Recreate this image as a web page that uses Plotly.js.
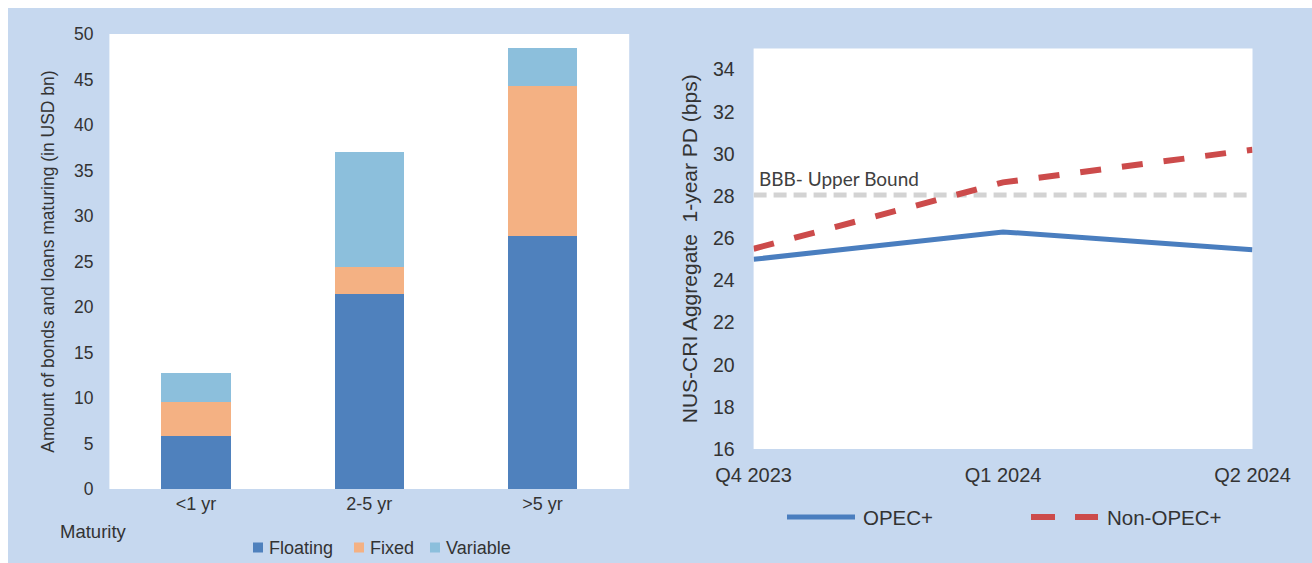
<!DOCTYPE html>
<html>
<head>
<meta charset="utf-8">
<script src="https://cdn.plot.ly/plotly-3.0.1.min.js"></script>
<style>
html,body{margin:0;padding:0;background:#ffffff;width:1312px;height:563px;overflow:hidden;}
#chart{position:absolute;left:8px;top:8px;width:1304px;height:555px;}
</style>
</head>
<body>
<div id="chart"></div>
<script>
// ---- Data: left panel ----
const maturities = ['<1 yr', '2-5 yr', '>5 yr'];
const floatingVals = [5.8, 21.4, 27.8];
const fixedVals = [3.75, 2.95, 16.5];
const variableVals = [3.15, 12.7, 4.2];
const leftTicks = [0, 5, 10, 15, 20, 25, 30, 35, 40, 45, 50];

// ---- Data: right panel ----
const quarters = ['Q4 2023', 'Q1 2024', 'Q2 2024'];
const opecVals = [25.0, 26.3, 25.45];
const nonOpecVals = [25.5, 28.65, 30.2];
const bbbBound = [28.05, 28.05, 28.05];
const rightTicks = [16, 18, 20, 22, 24, 26, 28, 30, 32, 34];

const W = 1304, H = 555;
const px = x => (x - 8) / W;
const py = y => 1 - (y - 8) / H;

const C_FLOAT = '#4f81bd', C_FIXED = '#f4b183', C_VAR = '#8cbfdc';
const C_OPEC = '#4a7ebf', C_NON = '#cc4b4b', C_BBB = '#d3d3d3';
const TXT = '#333333';
const ARIAL = 'Liberation Sans, Arial, sans-serif';

const traces = [
  {type:'bar', name:'Floating', x:maturities, y:floatingVals, marker:{color:C_FLOAT}, xaxis:'x', yaxis:'y', hoverinfo:'skip'},
  {type:'bar', name:'Fixed', x:maturities, y:fixedVals, marker:{color:C_FIXED}, xaxis:'x', yaxis:'y', hoverinfo:'skip'},
  {type:'bar', name:'Variable', x:maturities, y:variableVals, marker:{color:C_VAR}, xaxis:'x', yaxis:'y', hoverinfo:'skip'},
  {type:'scatter', mode:'lines', name:'BBB- Upper Bound', x:quarters, y:bbbBound, line:{color:C_BBB, width:5, dash:'13px,7px'}, xaxis:'x2', yaxis:'y2', hoverinfo:'skip'},
  {type:'scatter', mode:'lines', name:'OPEC+', x:quarters, y:opecVals, line:{color:C_OPEC, width:5}, xaxis:'x2', yaxis:'y2', hoverinfo:'skip'},
  {type:'scatter', mode:'lines', name:'Non-OPEC+', x:quarters, y:nonOpecVals, line:{color:C_NON, width:6, dash:'21px,21px'}, xaxis:'x2', yaxis:'y2', hoverinfo:'skip'}
];

const shapes = [];
const annotations = [];

// left legend (squares + text)
const legL = [
  {name:'Floating', color:C_FLOAT, sx:253, tx:267},
  {name:'Fixed', color:C_FIXED, sx:354, tx:368},
  {name:'Variable', color:C_VAR, sx:430, tx:444}
];
legL.forEach(l => {
  shapes.push({type:'rect', xref:'paper', yref:'paper', x0:px(l.sx), x1:px(l.sx+10), y0:py(552.5), y1:py(542.5), fillcolor:l.color, line:{width:0}});
  annotations.push({xref:'paper', yref:'paper', x:px(l.tx), y:py(547.5), xanchor:'left', yanchor:'middle', showarrow:false, text:l.name, font:{family:ARIAL, size:18, color:TXT}});
});
annotations.push({xref:'paper', yref:'paper', x:px(58), y:py(531), xanchor:'left', yanchor:'middle', showarrow:false, text:'Maturity', font:{family:ARIAL, size:18.5, color:TXT}});

// right legend (line samples + text)
shapes.push({type:'line', xref:'paper', yref:'paper', x0:px(787), x1:px(855), y0:py(517), y1:py(517), line:{color:C_OPEC, width:5}});
annotations.push({xref:'paper', yref:'paper', x:px(861), y:py(517), xanchor:'left', yanchor:'middle', showarrow:false, text:'OPEC+', font:{family:ARIAL, size:20.5, color:TXT}});
shapes.push({type:'line', xref:'paper', yref:'paper', x0:px(1031), x1:px(1098), y0:py(517), y1:py(517), line:{color:C_NON, width:6, dash:'24px,20px'}});
annotations.push({xref:'paper', yref:'paper', x:px(1105), y:py(517), xanchor:'left', yanchor:'middle', showarrow:false, text:'Non-OPEC+', font:{family:ARIAL, size:20.5, color:TXT}});

// BBB label
annotations.push({xref:'paper', yref:'paper', x:px(757), y:py(178.5), xanchor:'left', yanchor:'middle', showarrow:false, text:'BBB- Upper Bound', font:{family:'Lato, Open Sans, sans-serif', size:19, color:'#404040'}});

const layout = {
  width:W, height:H,
  margin:{l:0, r:0, t:0, b:0},
  paper_bgcolor:'#c6d8ef',
  plot_bgcolor:'#ffffff',
  showlegend:false,
  barmode:'stack',
  bargap:0.6,
  xaxis:{domain:[px(109.4), px(629.2)], anchor:'y', type:'category', showgrid:false, zeroline:false, showline:false, ticks:'',
         tickfont:{family:ARIAL, size:18, color:TXT}, ticklabelstandoff:2, fixedrange:true},
  yaxis:{domain:[py(489), py(34)], anchor:'x', range:[0,50], tickvals:leftTicks, showgrid:false, zeroline:false, showline:false, ticks:'',
         tickfont:{family:ARIAL, size:17.5, color:TXT}, ticklabelstandoff:15,
         title:{text:'Amount of bonds and loans maturing (in USD bn)', font:{family:ARIAL, size:17.5, color:TXT}, standoff:14}, fixedrange:true},
  xaxis2:{domain:[px(753.6), px(1252.5)], anchor:'y2', type:'category', range:[0,2], showgrid:false, zeroline:false, showline:false, ticks:'',
          tickfont:{family:ARIAL, size:20, color:TXT}, ticklabelstandoff:12, fixedrange:true},
  yaxis2:{domain:[py(449), py(48.5)], anchor:'x2', range:[16,35], tickvals:rightTicks, showgrid:false, zeroline:false, showline:false, ticks:'',
          tickfont:{family:ARIAL, size:19.5, color:TXT}, ticklabelstandoff:18,
          title:{text:'NUS-CRI Aggregate \u00a01-year PD (bps)', font:{family:ARIAL, size:21, color:TXT}, standoff:9}, fixedrange:true},
  shapes:shapes,
  annotations:annotations
};

Plotly.newPlot('chart', traces, layout, {displayModeBar:false, staticPlot:true});
</script>
</body>
</html>
